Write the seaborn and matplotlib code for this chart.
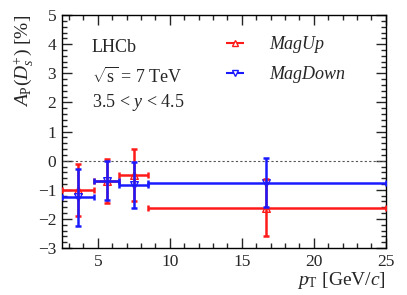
import numpy as np
import pandas as pd
import matplotlib
matplotlib.use("Agg")
import matplotlib.pyplot as plt
import seaborn as sns
from matplotlib.ticker import MultipleLocator

# ---- data ----
bin_lo = [2.5, 4.7, 6.5, 8.5]
bin_hi = [4.7, 6.5, 8.5, 25.0]
pt_mean = [3.6, 5.6, 7.5, 16.7]
magup_val = [-1.01, -0.70, -0.48, -1.62]
magup_err = [0.90, 0.76, 0.89, 0.98]
magdown_val = [-1.25, -0.68, -0.83, -0.75]
magdown_err = [0.98, 0.68, 0.78, 0.84]

sns.set_theme(style="ticks")
plt.rcParams['font.family'] = ['Liberation Serif', 'DejaVu Serif']
plt.rcParams['mathtext.fontset'] = 'custom'
plt.rcParams['mathtext.rm'] = 'Liberation Serif'
plt.rcParams['mathtext.it'] = 'Liberation Serif:italic'
plt.rcParams['mathtext.bf'] = 'Liberation Serif:bold'

fig = plt.figure(figsize=(4.07, 2.95), dpi=100)
ax = fig.add_axes([0.152, 0.159, 0.796, 0.790])

red = '#ff1a1a'
blue = '#1a1aff'

rows = []
for name, vals, errs in [("MagUp", magup_val, magup_err), ("MagDown", magdown_val, magdown_err)]:
    for lo, hi, m, v, e in zip(bin_lo, bin_hi, pt_mean, vals, errs):
        rows.append(dict(series=name, lo=lo, hi=hi, x=m, y=v, err=e))
df = pd.DataFrame(rows)

ax.axhline(0, color='#555555', lw=0.8, ls=(0, (2, 2)), zorder=1)

for name, col, mk in [("MagUp", red, '^'), ("MagDown", blue, 'v')]:
    d = df[df.series == name]
    sns.scatterplot(data=d, x='x', y='y', marker=mk, s=30, facecolor='white',
                    edgecolor=col, linewidth=1.0, ax=ax, zorder=2, legend=False)
    xerr = np.vstack([d.x - d.lo, d.hi - d.x])
    ax.errorbar(d.x, d.y, xerr=xerr, yerr=d.err, fmt='none', ecolor=col,
                elinewidth=1.8, capsize=2.5, capthick=1.8, zorder=3)

h_up = ax.errorbar([], [], xerr=[], fmt='^', color=red, mfc='white', mec=red,
                   ms=5, elinewidth=1.5, capsize=2)
h_dn = ax.errorbar([], [], xerr=[], fmt='v', color=blue, mfc='white', mec=blue,
                   ms=5, elinewidth=1.5, capsize=2)
leg = ax.legend([h_up, h_dn], ['MagUp', 'MagDown'], loc='upper left',
                bbox_to_anchor=(0.456, 0.94), frameon=False, borderaxespad=0,
                prop={'style': 'italic', 'size': 13}, handlelength=2.0,
                handletextpad=0.9, labelspacing=0.72)

ax.set_xlim(2.5, 25)
ax.set_ylim(-3, 5)
ax.xaxis.set_major_locator(MultipleLocator(5))
ax.xaxis.set_minor_locator(MultipleLocator(1))
ax.yaxis.set_major_locator(MultipleLocator(1))
ax.yaxis.set_minor_locator(MultipleLocator(0.2))
ax.tick_params(which='both', direction='in', top=True, right=True, labelsize=12.5)
ax.tick_params(which='major', length=7, width=1, pad=4)
ax.tick_params(which='minor', length=3.5, width=1)
for s in ax.spines.values():
    s.set_linewidth(1.0)
    s.set_color('black')

ax.set_xlabel(r'$p_{\mathrm{T}}$ [GeV/$c$]', fontsize=14, loc='right', labelpad=0)
ax.set_ylabel(r'$A_{\mathrm{P}}(D_s^{+})$ [%]', fontsize=14, loc='top', labelpad=2)

ax.text(0.093, 0.86, 'LHCb', transform=ax.transAxes, fontsize=13, va='center')
ax.text(0.093, 0.735, r'$\sqrt{\mathrm{s}}$ = 7 TeV', transform=ax.transAxes, fontsize=13, va='center')
ax.text(0.093, 0.625, r'3.5 < $y$ < 4.5', transform=ax.transAxes, fontsize=13, va='center')

fig.savefig('out.png', dpi=100)
